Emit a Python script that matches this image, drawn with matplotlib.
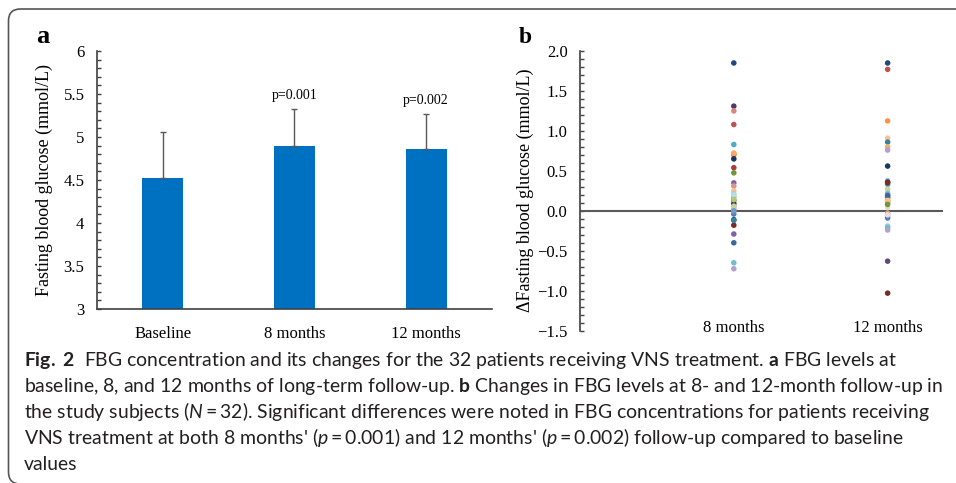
import matplotlib
matplotlib.use('Agg')
import matplotlib.pyplot as plt
import matplotlib.transforms as mtransforms
from matplotlib.patches import FancyBboxPatch
from matplotlib.ticker import MultipleLocator
import numpy as np

plt.rcParams['font.family'] = ['Liberation Serif', 'DejaVu Serif']
plt.rcParams['mathtext.fontset'] = 'custom'
plt.rcParams['mathtext.rm'] = 'Lato'
plt.rcParams['mathtext.it'] = 'Lato:italic'
plt.rcParams['mathtext.bf'] = 'Lato:bold'

# panel a: mean FBG with SD
groups_a = ['Baseline', '8 months', '12 months']
fbg_mean = [4.52, 4.90, 4.86]
fbg_sd = [0.54, 0.43, 0.41]
p_text = ['', 'p=0.001', 'p=0.002']

# panel b: change from baseline per patient
groups_b = ['8 months', '12 months']
delta_8m = [1.85, 1.31, 1.25, 1.08, 0.83, 0.72, 0.70, 0.65, 0.54, 0.475,
            0.35, 0.31, 0.25, 0.21, 0.17, 0.13, 0.09, 0.06, 0.02, -0.04,
            -0.11, -0.18, -0.29, -0.40, -0.65, -0.725,
            0.20, 0.14, 0.05, 0.00, 0.72, -0.12]
colors_8m = ['#1F497D', '#4D3B62', '#D98585', '#C0504D', '#4BACC6', '#F79646',
             '#E46C0A', '#17375E', '#A5403D', '#77933C', '#8064A2', '#D99694',
             '#FAC090', '#93CDDD', '#9BBB59', '#4F6228', '#632523', '#95B3D7',
             '#F79646', '#4F81BD', '#215968', '#772C2A', '#8064A2', '#3A679C',
             '#6FBDD1', '#B3A2C7',
             '#B7DEE8', '#AFC97A', '#C3D69B', '#729ACA', '#F9AB6B', '#31859C']
delta_12m = [1.85, 1.77, 1.125, 0.91, 0.86, 0.80, 0.76, 0.56, 0.38, 0.36,
             0.33, 0.27, 0.22, 0.20, 0.17, 0.15, 0.12, 0.10, 0.04, -0.03,
             -0.06, -0.09, -0.19, -0.21, -0.24, -0.63, -1.03,
             0.35, 0.19, 0.13, 0.08, -0.05]
colors_12m = ['#1F497D', '#C0504D', '#F79646', '#FAC090', '#31859C', '#F9AB6B',
              '#B3A2C7', '#17375E', '#93CDDD', '#632523', '#4BACC6', '#C3D69B',
              '#95B3D7', '#729ACA', '#4D3B62', '#F79646', '#E46C0A', '#9BBB59',
              '#D7E4BD', '#D99694', '#CD7371', '#4F81BD', '#93CDDD', '#6FBDD1',
              '#B3A2C7', '#604A7B', '#772C2A',
              '#772C2A', '#3A679C', '#FAC090', '#77933C', '#F2DCDB']

caption_lines = [
    r'$\mathbf{Fig.\ 2}$  FBG concentration and its changes for the 32 patients receiving VNS treatment. $\mathbf{a}$ FBG levels at',
    r'baseline, 8, and 12 months of long-term follow-up. $\mathbf{b}$ Changes in FBG levels at 8- and 12-month follow-up in',
    r'the study subjects ($\mathit{N}=\mathrm{32}$). Significant differences were noted in FBG concentrations for patients receiving',
    r"VNS treatment at both 8 months' ($\mathit{p}=\mathrm{0.001}$) and 12 months' ($\mathit{p}=\mathrm{0.002}$) follow-up compared to baseline",
    'values',
]

W, H = 956, 483
fig = plt.figure(figsize=(W / 100, H / 100), dpi=100)
fig.patch.set_facecolor('white')

axis_col = '#404040'

# ---------------- panel a ----------------
ax1 = fig.add_axes([97 / W, 1 - 309 / H, 395 / W, 258 / H])
x_a = np.arange(len(groups_a))
ax1.bar(x_a, fbg_mean, width=0.31, color='#0070C0', zorder=2,
        yerr=[np.zeros(len(fbg_sd)), fbg_sd], capsize=2.5,
        error_kw={'ecolor': '#595959', 'elinewidth': 1.0, 'capthick': 1.0})
for i, t in enumerate(p_text):
    if t:
        ax1.annotate(t, (x_a[i], fbg_mean[i] + fbg_sd[i]), xytext=(0, 5),
                     textcoords='offset points', ha='center', va='bottom', fontsize=10)
ax1.set_xlim(-0.5, 2.5)
ax1.set_ylim(3, 6)
ax1.set_xticks(x_a, groups_a)
ax1.yaxis.set_major_locator(MultipleLocator(0.5))
ax1.yaxis.set_minor_locator(MultipleLocator(0.1))
ax1.yaxis.set_major_formatter(lambda v, pos: f'{v:g}')
ax1.tick_params(axis='x', length=0, pad=12, labelsize=12)
ax1.tick_params(axis='y', which='both', direction='in', length=3, width=1,
                color=axis_col, labelsize=12, pad=9)
for s in ['top', 'right']:
    ax1.spines[s].set_visible(False)
for s in ['left', 'bottom']:
    ax1.spines[s].set_color(axis_col)
    ax1.spines[s].set_linewidth(1.2)
ax1.set_ylabel('Fasting blood glucose (mmol/L)', fontsize=13)
ax1.yaxis.set_label_coords(-0.112, 0.5)

# ---------------- panel b ----------------
ax2 = fig.add_axes([580 / W, 1 - 330.7 / H, 363 / W, 279.7 / H])
x_b = [1, 2]
ax2.scatter(np.full(len(delta_8m), x_b[0]), delta_8m, c=colors_8m, s=16,
            linewidths=0, zorder=3)
ax2.scatter(np.full(len(delta_12m), x_b[1]), delta_12m, c=colors_12m, s=16,
            linewidths=0, zorder=3)
ax2.axhline(0, color='#595959', lw=1.5, zorder=2)
ax2.set_xlim(0, 2.36)
ax2.set_ylim(-1.5, 2.0)
ax2.set_xticks(x_b, groups_b)
ax2.yaxis.set_major_locator(MultipleLocator(0.5))
ax2.yaxis.set_minor_locator(MultipleLocator(0.1))
ax2.yaxis.set_major_formatter('{x:.1f}')
ax2.tick_params(axis='x', length=0, pad=-8, labelsize=12)
ax2.tick_params(axis='y', which='both', direction='in', length=3, width=1,
                color=axis_col, labelsize=12, pad=9)
for s in ['top', 'right', 'bottom']:
    ax2.spines[s].set_visible(False)
ax2.spines['left'].set_color(axis_col)
ax2.spines['left'].set_linewidth(1.2)
ax2.set_ylabel('\u0394Fasting blood glucose (mmol/L)', fontsize=13)
ax2.yaxis.set_label_coords(-0.127, 0.503)

# panel letters
fig.text(43 / W, 1 - 42.7 / H, 'a', fontsize=19, fontweight='bold', ha='center', va='baseline')
fig.text(525 / W, 1 - 42.7 / H, 'b', fontsize=17, fontweight='bold', ha='center', va='baseline')

# caption
cap_texts = []
for k, line in enumerate(caption_lines):
    t = fig.text(24 / W, 1 - (366 + 26 * k) / H, line, family='Lato', fontsize=13,
                 ha='left', va='baseline', color='#231F20')
    cap_texts.append(t)
fig.canvas.draw()
renderer = fig.canvas.get_renderer()
w2 = cap_texts[1].get_window_extent(renderer).width
scale = 914 / w2
for t in cap_texts:
    t.set_fontsize(13 * scale)

# rounded frame around the figure
frame = FancyBboxPatch((8.5, -1), 1000, 475, boxstyle='round,pad=0,rounding_size=12',
                       transform=mtransforms.IdentityTransform(), fill=False,
                       edgecolor='#555555', linewidth=1.2)
fig.patches.append(frame)

fig.savefig('out.png', dpi=100)
